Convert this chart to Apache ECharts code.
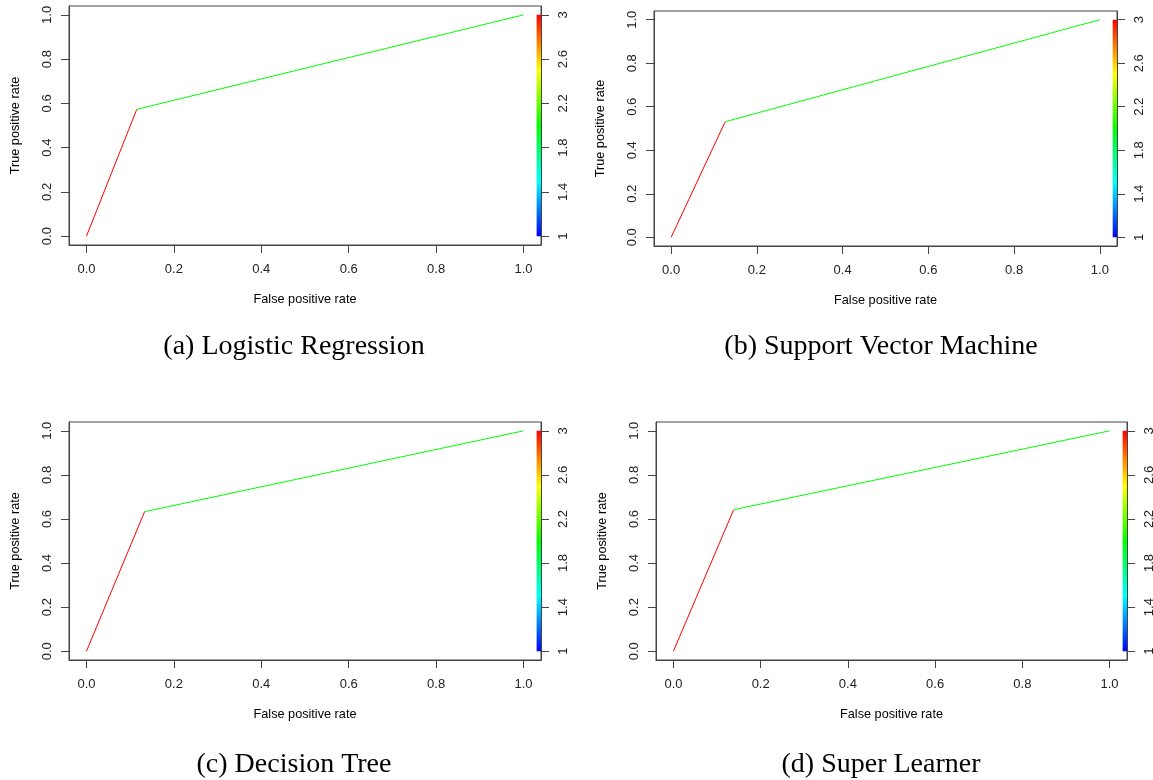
<!DOCTYPE html>
<html style="height:100%">
<head>
    <meta charset="utf-8">
    <title>ROC curves</title>
    <script src="https://cdn.jsdelivr.net/npm/echarts@6.0.0/dist/echarts.min.js"></script>
</head>
<body style="height:100%;margin:0;background:#fff">
    <div id="main" style="width:1153px;height:780px;"></div>
    <script type="text/javascript">
        // panel captions
        var panelTitles = ['(a) Logistic Regression', '(b) Support Vector Machine', '(c) Decision Tree', '(d) Super Learner'];

        // ROC points (false positive rate / true positive rate) per model
        var fprLR = [0, 0.115, 1];
        var tprLR = [0, 0.573, 1];
        var fprSVM = [0, 0.126, 1];
        var tprSVM = [0, 0.531, 1];
        var fprDT = [0, 0.133, 1];
        var tprDT = [0, 0.633, 1];
        var fprSL = [0, 0.138, 1];
        var tprSL = [0, 0.642, 1];

        // cutoff of each curve segment (colour key value)
        var segCutoffs = [3, 2];

        // tick labels
        var rateTicks = [0, 0.2, 0.4, 0.6, 0.8, 1];
        var keyTicks = [1, 1.4, 1.8, 2.2, 2.6, 3];

        var fprs = [fprLR, fprSVM, fprDT, fprSL];
        var tprs = [tprLR, tprSVM, tprDT, tprSL];

        var boxes = [
            { left: 69, top: 6, width: 472, height: 239 },
            { left: 654, top: 11, width: 463, height: 235 },
            { left: 69, top: 422, width: 472, height: 238 },
            { left: 656, top: 422, width: 471, height: 238 }
        ];
        var captionPos = [[294, 347], [881, 347], [294, 765], [881, 765]];

        var keyMin = 1, keyMax = 3;
        // rainbow: blue at keyMin -> red at keyMax
        function keyColor(v) {
            var t = (v - keyMin) / (keyMax - keyMin);
            return 'hsl(' + Math.round(240 * (1 - t)) + ',100%,50%)';
        }
        var keyStops = [];
        for (var s = 0; s <= 8; s++) {
            keyStops.push({ offset: s / 8, color: keyColor(keyMin + (keyMax - keyMin) * s / 8) });
        }

        var myChart = echarts.init(document.getElementById('main'));

        var axisColor = '#444';
        var labelStyle = { color: '#222', fontSize: 13, fontFamily: 'Liberation Sans, Arial, sans-serif' };

        var option = {
            backgroundColor: '#fff',
            animation: false,
            title: [],
            grid: [],
            xAxis: [],
            yAxis: [],
            series: []
        };

        for (var i = 0; i < 4; i++) {
            option.title.push({
                text: panelTitles[i],
                left: captionPos[i][0],
                top: captionPos[i][1],
                padding: 0,
                textAlign: 'center',
                textVerticalAlign: 'middle',
                textStyle: { fontFamily: 'Liberation Serif, serif', fontWeight: 'normal', fontSize: 28, color: '#000' }
            });
            option.grid.push({
                left: boxes[i].left, top: boxes[i].top,
                width: boxes[i].width, height: boxes[i].height,
                outerBoundsMode: 'none',
                containLabel: false,
                show: true, borderColor: axisColor, borderWidth: 1,
                backgroundColor: 'transparent'
            });
            option.xAxis.push({
                gridIndex: i,
                type: 'value',
                min: -0.04,
                max: 1.04,
                name: 'False positive rate',
                nameLocation: 'middle',
                nameGap: 48,
                nameTextStyle: { color: '#000', fontSize: 12.7, fontFamily: 'Liberation Sans, Arial, sans-serif' },
                axisLine: { show: true, onZero: false, lineStyle: { color: axisColor } },
                axisTick: { show: true, length: 8, customValues: rateTicks, lineStyle: { color: axisColor } },
                axisLabel: Object.assign({ customValues: rateTicks, margin: 18, formatter: function (v) { return v.toFixed(1); } }, labelStyle),
                splitLine: { show: false }
            });
            option.yAxis.push({
                gridIndex: i,
                type: 'value',
                min: -0.04,
                max: 1.04,
                name: 'True positive rate',
                nameLocation: 'middle',
                nameGap: 47,
                nameTextStyle: { color: '#000', fontSize: 12.7, fontFamily: 'Liberation Sans, Arial, sans-serif' },
                axisLine: { show: true, onZero: false, lineStyle: { color: axisColor } },
                axisTick: { show: true, length: 8, customValues: rateTicks, lineStyle: { color: axisColor } },
                axisLabel: Object.assign({ customValues: rateTicks, margin: 15, rotate: 90, formatter: function (v) { return v.toFixed(1); } }, labelStyle),
                splitLine: { show: false }
            });
            // colour key axis on the right
            option.yAxis.push({
                gridIndex: i,
                type: 'value',
                position: 'right',
                min: keyMin - 0.04 * (keyMax - keyMin),
                max: keyMax + 0.04 * (keyMax - keyMin),
                axisLine: { show: true, onZero: false, lineStyle: { color: axisColor } },
                axisTick: { show: true, length: 8, customValues: keyTicks, lineStyle: { color: axisColor } },
                axisLabel: Object.assign({ customValues: keyTicks, margin: 16, rotate: 90, formatter: function (v) { return String(v); } }, labelStyle),
                splitLine: { show: false }
            });

            // colour key bar
            option.series.push({
                type: 'custom',
                xAxisIndex: i,
                yAxisIndex: 2 * i + 1,
                silent: true,
                data: [[1.03, keyMin, 1.04, keyMax]],
                renderItem: function (params, api) {
                    var p0 = api.coord([api.value(0), api.value(1)]);
                    var p1 = api.coord([api.value(2), api.value(3)]);
                    return {
                        type: 'rect',
                        shape: { x: p0[0], y: p1[1], width: p1[0] - p0[0], height: p0[1] - p1[1] },
                        style: { fill: new echarts.graphic.LinearGradient(0, 1, 0, 0, keyStops) }
                    };
                }
            });

            // ROC curve, one segment per cutoff
            for (var k = 0; k < fprs[i].length - 1; k++) {
                option.series.push({
                    type: 'line',
                    xAxisIndex: i,
                    yAxisIndex: 2 * i,
                    showSymbol: false,
                    symbol: 'none',
                    lineStyle: { color: keyColor(segCutoffs[k]), width: 1 },
                    data: [[fprs[i][k], tprs[i][k]], [fprs[i][k + 1], tprs[i][k + 1]]]
                });
            }
        }

        myChart.setOption(option);
    </script>
</body>
</html>
